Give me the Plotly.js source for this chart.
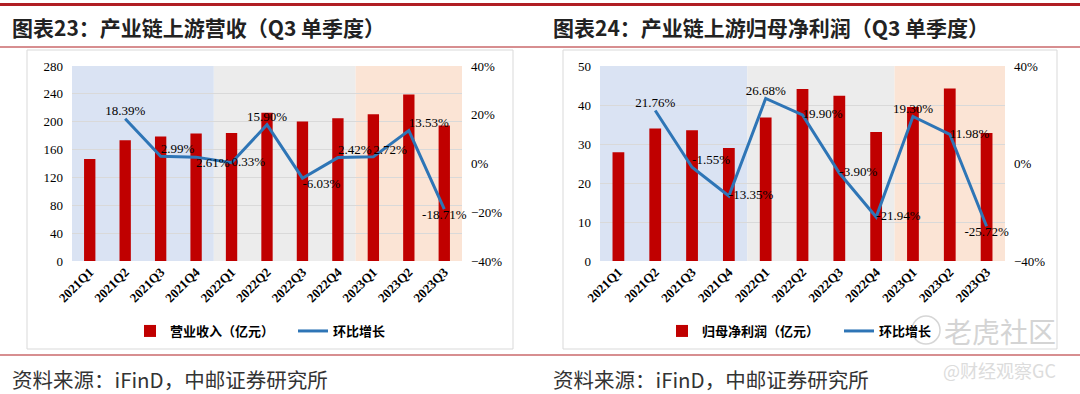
<!DOCTYPE html>
<html>
<head>
<meta charset="utf-8">
<script src="https://cdn.plot.ly/plotly-3.0.1.min.js"></script>
<style>
html,body{margin:0;padding:0;background:#fff;}
#chart{width:1080px;height:394px;}
</style>
</head>
<body>
<div id="chart"></div>
<script>
// ---- data ----
const quarters = ['2021Q1','2021Q2','2021Q3','2021Q4','2022Q1','2022Q2','2022Q3','2022Q4','2023Q1','2023Q2','2023Q3'];
const revenue = [146.5, 173.4, 178.6, 183.2, 183.8, 213.0, 200.2, 205.0, 210.6, 239.1, 194.4];
const revenueQoQ = [null, 18.39, 2.99, 2.61, 0.33, 15.90, -6.03, 2.42, 2.72, 13.53, -18.71];
const profit = [27.9, 34.0, 33.5, 29.0, 36.8, 44.1, 42.4, 33.1, 39.5, 44.2, 32.8];
const profitQoQ = [null, 21.76, -1.55, -13.35, 26.68, 19.90, -3.90, -21.94, 19.30, 11.98, -25.72];
const leftTicks = [0, 40, 80, 120, 160, 200, 240, 280];
const rightTicks = [0, 10, 20, 30, 40, 50];
const title1 = '图表23：产业链上游营收（Q3 单季度）';
const title2 = '图表24：产业链上游归母净利润（Q3 单季度）';
const source = '资料来源：iFinD，中邮证券研究所';
const barName1 = '营业收入（亿元）';
const barName2 = '归母净利润（亿元）';
const lineName = '环比增长';

// ---- styles ----
const W = 1080, H = 394;
const RED = '#c00000', BLUE = '#2e75b6', DARKRED = '#b01e23';
const serif = 'Liberation Serif, Times New Roman, serif';
const cjk = 'Noto Sans CJK SC, sans-serif';
const pos1 = [null,'top center','top right','bottom right','middle right','top center','bottom right','top right','top right','top right','bottom center'];
const pos2 = [null,'top center','top right','middle right','top center','middle right','middle right','middle right','top center','middle right','bottom center'];
const bandColors = {'2021':'#dae3f3','2022':'#ececec','2023':'#fbe4d5'};

const px = v => v / W;
const py = v => 1 - v / H;
const pct = arr => arr.map(v => v == null ? '' : v.toFixed(2) + '%');

const traces = [
  {type:'bar', x:quarters, y:revenue, name:barName1, marker:{color:RED}, xaxis:'x', yaxis:'y', legend:'legend', hoverinfo:'skip'},
  {type:'scatter', mode:'lines+text', x:quarters, y:revenueQoQ, name:lineName, line:{color:BLUE, width:3},
   text:pct(revenueQoQ), textposition:pos1.map(p=>p||'top center'), textfont:{family:serif, size:13, color:'#000'},
   xaxis:'x', yaxis:'y2', legend:'legend', connectgaps:false, cliponaxis:false, hoverinfo:'skip'},
  {type:'bar', x:quarters, y:profit, name:barName2, marker:{color:RED}, xaxis:'x2', yaxis:'y3', legend:'legend2', hoverinfo:'skip'},
  {type:'scatter', mode:'lines+text', x:quarters, y:profitQoQ, name:lineName, line:{color:BLUE, width:3},
   text:pct(profitQoQ), textposition:pos2.map(p=>p||'top center'), textfont:{family:serif, size:13, color:'#000'},
   xaxis:'x2', yaxis:'y4', legend:'legend2', connectgaps:false, cliponaxis:false, hoverinfo:'skip'}
];

// background bands by year
const shapes = [];
function addBands(xref){
  const years = quarters.map(q => q.slice(0,4));
  const uniq = [...new Set(years)];
  uniq.forEach(y => {
    const first = years.indexOf(y), last = years.lastIndexOf(y);
    shapes.push({type:'rect', xref:xref, yref:(xref==='x'?'y':'y3')+' domain', x0:first-0.5, x1:last+0.5, y0:0, y1:1,
      fillcolor:bandColors[y], line:{width:0}, layer:'below'});
  });
}
// chart boxes
shapes.push({type:'rect', xref:'paper', yref:'paper', x0:px(27), x1:px(513), y0:py(349), y1:py(50), line:{color:'#d9d9d9', width:1}, fillcolor:'#fff', layer:'below'});
shapes.push({type:'rect', xref:'paper', yref:'paper', x0:px(563), x1:px(1057), y0:py(349), y1:py(50), line:{color:'#d9d9d9', width:1}, fillcolor:'#fff', layer:'below'});
addBands('x'); addBands('x2');
// red rules
shapes.push({type:'line', xref:'paper', yref:'paper', x0:0, x1:1, y0:py(4.5), y1:py(4.5), line:{color:DARKRED, width:3}});
shapes.push({type:'line', xref:'paper', yref:'paper', x0:0, x1:1, y0:py(47), y1:py(47), line:{color:DARKRED, width:1.2}});
shapes.push({type:'line', xref:'paper', yref:'paper', x0:0, x1:1, y0:py(355), y1:py(355), line:{color:DARKRED, width:1.2}});
// watermark logo circle
shapes.push({type:'circle', xref:'paper', yref:'paper', x0:px(912), x1:px(940), y0:py(344), y1:py(316), line:{color:'#d6d6d6', width:1.5}});

const annotations = [
  {text:title1, x:px(10), y:py(27), xref:'paper', yref:'paper', xanchor:'left', yanchor:'middle', showarrow:false, font:{family:cjk, size:21, color:'#222', weight:'bold'}},
  {text:title2, x:px(551), y:py(27), xref:'paper', yref:'paper', xanchor:'left', yanchor:'middle', showarrow:false, font:{family:cjk, size:21, color:'#222', weight:'bold'}},
  {text:source, x:px(10), y:py(379), xref:'paper', yref:'paper', xanchor:'left', yanchor:'middle', showarrow:false, font:{family:cjk, size:20.5, color:'#333'}},
  {text:source, x:px(551), y:py(379), xref:'paper', yref:'paper', xanchor:'left', yanchor:'middle', showarrow:false, font:{family:cjk, size:20.5, color:'#333'}},
  {text:'老虎社区', x:px(1058), y:py(331), xref:'paper', yref:'paper', xanchor:'right', yanchor:'middle', showarrow:false, font:{family:cjk, size:28, color:'#d4d4d4'}},
  {text:'@财经观察GC', x:px(1058), y:py(370), xref:'paper', yref:'paper', xanchor:'right', yanchor:'middle', showarrow:false, font:{family:cjk, size:18, color:'#dcdcdc'}}
];

const yDom = [py(261), py(66)];
const xTickFont = {family:serif, size:13, color:'#000', weight:'bold'};
const yTickFont = {family:serif, size:13, color:'#000'};
const legFont = {family:cjk, size:13, color:'#000', weight:'bold'};

const layout = {
  width:W, height:H, margin:{l:0,r:0,t:0,b:0},
  paper_bgcolor:'#fff', plot_bgcolor:'rgba(0,0,0,0)',
  bargap:0.68, showlegend:true,
  xaxis:{domain:[px(72), px(462)], anchor:'y', type:'category', tickangle:-45, tickfont:xTickFont, showline:false, ticks:'', showgrid:false, range:[-0.5, quarters.length-0.5]},
  yaxis:{domain:yDom, anchor:'x', range:[0, 280], tickvals:leftTicks, tickfont:yTickFont, gridcolor:'#d9d9d9', gridwidth:1, zeroline:false, showline:false, ticks:'', ticklabelstandoff:8},
  yaxis2:{overlaying:'y', side:'right', anchor:'x', range:[-40, 40], dtick:20, ticksuffix:'%', tickfont:yTickFont, showgrid:false, zeroline:false, showline:false, ticks:'', ticklabelstandoff:8},
  xaxis2:{domain:[px(600), px(1005)], anchor:'y3', type:'category', tickangle:-45, tickfont:xTickFont, showline:false, ticks:'', showgrid:false, range:[-0.5, quarters.length-0.5]},
  yaxis3:{domain:yDom, anchor:'x2', range:[0, 50], tickvals:rightTicks, tickfont:yTickFont, gridcolor:'#d9d9d9', gridwidth:1, zeroline:false, showline:false, ticks:'', ticklabelstandoff:8},
  yaxis4:{overlaying:'y3', side:'right', anchor:'x2', range:[-40, 40], dtick:40, ticksuffix:'%', tickfont:yTickFont, showgrid:false, zeroline:false, showline:false, ticks:'', ticklabelstandoff:8},
  legend:{orientation:'h', x:px(130), y:py(331), xanchor:'left', yanchor:'middle', font:legFont, bgcolor:'rgba(0,0,0,0)', itemwidth:30, entrywidth:118, traceorder:'normal'},
  legend2:{orientation:'h', x:px(662), y:py(331), xanchor:'left', yanchor:'middle', font:legFont, bgcolor:'rgba(0,0,0,0)', itemwidth:30, entrywidth:132, traceorder:'normal'},
  shapes:shapes, annotations:annotations
};

Plotly.newPlot('chart', traces, layout, {staticPlot:true, displayModeBar:false});
</script>
</body>
</html>
